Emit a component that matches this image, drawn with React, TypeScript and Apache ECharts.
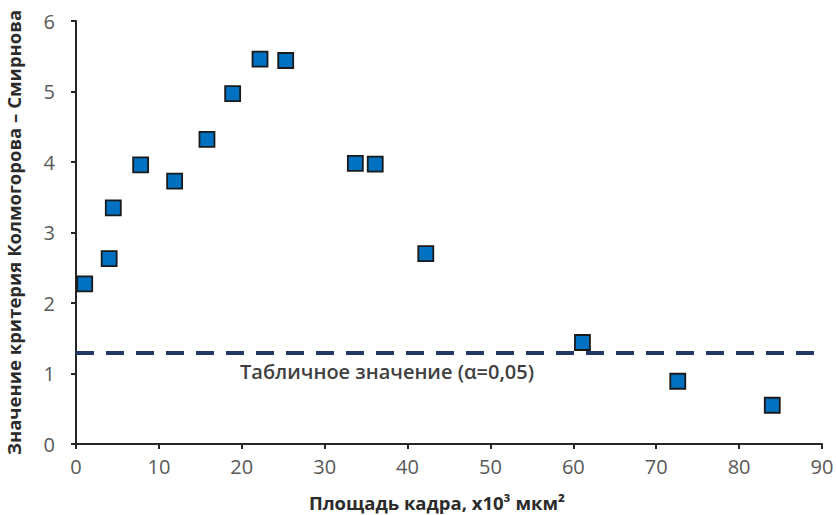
import React, { useEffect, useRef } from "react";
import * as echarts from "echarts";

// Frame area (x10^3 µm²) and Kolmogorov–Smirnov statistic per point
const frameArea = [1.05, 4.0, 4.5, 7.8, 11.9, 15.8, 18.9, 22.2, 25.3, 33.7, 36.1, 42.2, 61.1, 72.6, 84.0];
const ksValue = [2.27, 2.63, 3.35, 3.96, 3.73, 4.32, 4.97, 5.46, 5.44, 3.98, 3.97, 2.7, 1.44, 0.89, 0.55];

// Critical table value at alpha = 0.05
const criticalValue = 1.3;

const xTitle = "Площадь кадра, x10³ мкм²";
const yTitle = "Значение критерия Колмогорова – Смирнова";
const criticalLabel = "Табличное значение (α=0,05)";

const FONT = "'Open Sans', Lato, sans-serif";

export default function App() {
  const ref = useRef<HTMLDivElement>(null);

  useEffect(() => {
    if (!ref.current) return;
    const chart = echarts.init(ref.current, null, { renderer: "svg" });
    const points = frameArea.map((x, i) => [x, ksValue[i]]);

    chart.setOption({
      animation: false,
      backgroundColor: "#ffffff",
      grid: { left: 76, right: 14, top: 21, bottom: 71, containLabel: false, outerBoundsMode: "none" },
      xAxis: {
        type: "value",
        min: 0,
        max: 90,
        interval: 10,
        splitLine: { show: false },
        axisLine: { onZero: false, lineStyle: { color: "#262626", width: 2 } },
        axisTick: { show: true, inside: false, length: 5, lineStyle: { color: "#262626", width: 2 } },
        axisLabel: { color: "#595959", fontSize: 20, fontFamily: FONT, margin: 12 },
      },
      yAxis: {
        type: "value",
        min: 0,
        max: 6,
        interval: 1,
        splitLine: { show: false },
        axisLine: { show: true, lineStyle: { color: "#262626", width: 2 } },
        axisTick: { show: true, inside: false, length: 5, lineStyle: { color: "#262626", width: 2 } },
        axisLabel: { color: "#595959", fontSize: 20, fontFamily: FONT, margin: 21 },
        name: yTitle,
        nameLocation: "middle",
        nameGap: 53,
        nameRotate: 90,
        nameTextStyle: { color: "#2b2b2b", fontSize: 18.5, fontWeight: "bold", fontFamily: FONT },
      },
      graphic: [
        {
          type: "text",
          x: 437,
          y: 502,
          style: {
            text: xTitle,
            fill: "#2b2b2b",
            font: `bold 18.5px ${FONT}`,
            textAlign: "center",
            textVerticalAlign: "middle",
          },
        },
        {
          type: "text",
          x: 240,
          y: 371,
          style: {
            text: criticalLabel,
            fill: "#404040",
            font: `600 20px ${FONT}`,
            textVerticalAlign: "middle",
          },
        },
      ],
      series: [
        {
          type: "scatter",
          data: points,
          symbol: "rect",
          symbolSize: 15,
          itemStyle: { color: "#0070C0", opacity: 1, borderColor: "#1a1a1a", borderWidth: 1.8 },
          z: 3,
          markLine: {
            silent: true,
            symbol: "none",
            label: { show: false },
            lineStyle: { color: "#1F3864", width: 4, type: [18, 12] },
            data: [{ yAxis: criticalValue }],
            z: 2,
          },
        },
      ],
    });

    return () => chart.dispose();
  }, []);

  return (
    <div
      ref={ref}
      style={{ position: "fixed", left: 0, top: 0, width: 836, height: 515 }}
    />
  );
}
